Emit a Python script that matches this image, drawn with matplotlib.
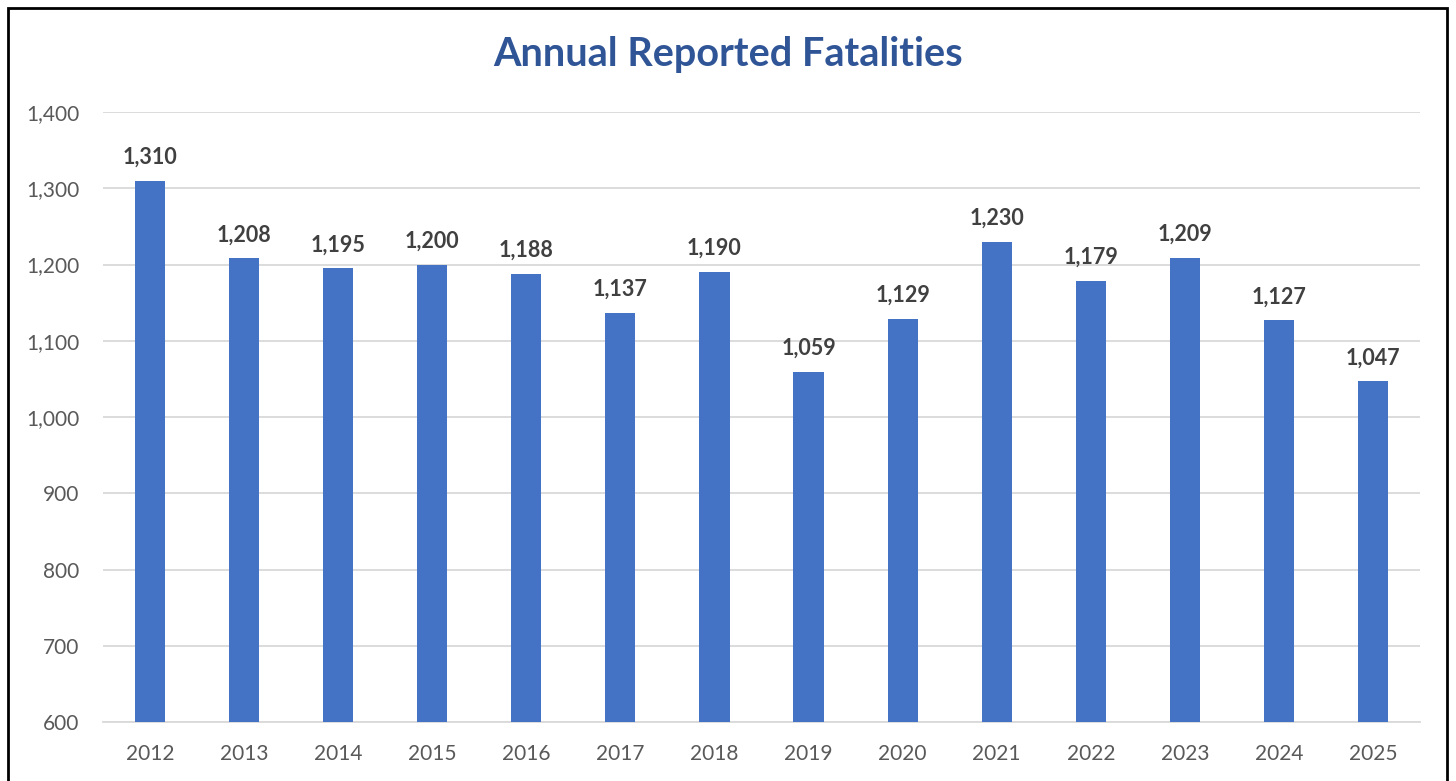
import matplotlib
matplotlib.use("Agg")
import matplotlib.pyplot as plt
from matplotlib.patches import Rectangle
from matplotlib.ticker import FuncFormatter

plt.rcParams['font.family'] = ['Lato', 'DejaVu Sans']

years = ['2012', '2013', '2014', '2015', '2016', '2017', '2018',
         '2019', '2020', '2021', '2022', '2023', '2024', '2025']
fatalities = [1310, 1208, 1195, 1200, 1188, 1137, 1190,
              1059, 1129, 1230, 1179, 1209, 1127, 1047]

fig = plt.figure(figsize=(14.56, 7.81), dpi=100)
ax = fig.add_axes([0.0707, 0.0755, 0.9046, 0.7811])

x = range(len(years))
ax.bar(x, fatalities, width=0.32, color='#4472C4', zorder=3)

for xi, v in zip(x, fatalities):
    ax.text(xi, v + 17, f'{v:,}', ha='center', va='bottom', fontsize=15.5,
            fontweight='bold', color='#404040')

ax.set_ylim(600, 1400)
ax.set_xlim(-0.5, len(years) - 0.5)
ax.set_yticks(range(600, 1401, 100))
ax.yaxis.set_major_formatter(FuncFormatter(lambda v, p: f'{int(v):,}'))
ax.set_xticks(list(x))
ax.set_xticklabels(years)
ax.grid(axis='y', color='#D9D9D9', linewidth=1.3, zorder=0)
ax.tick_params(axis='both', length=0, labelsize=15, labelcolor='#595959')
ax.tick_params(axis='x', pad=16)
ax.tick_params(axis='y', pad=17)
for s in ['top', 'right', 'left']:
    ax.spines[s].set_visible(False)
ax.spines['bottom'].set_color('#D9D9D9')
ax.spines['bottom'].set_linewidth(1.3)

fig.text(0.5, 0.9296, 'Annual Reported Fatalities', ha='center', va='center',
         fontsize=28.5, fontweight='bold', color='#2F5597')

# outer frame (bottom edge runs off the image)
fig.patches.append(Rectangle((8 / 1456, -0.05), 1439 / 1456, 1 - 8 / 781 + 0.05,
                             transform=fig.transFigure, fill=False,
                             edgecolor='black', linewidth=2, clip_on=False))

fig.savefig('out.png', dpi=100)
